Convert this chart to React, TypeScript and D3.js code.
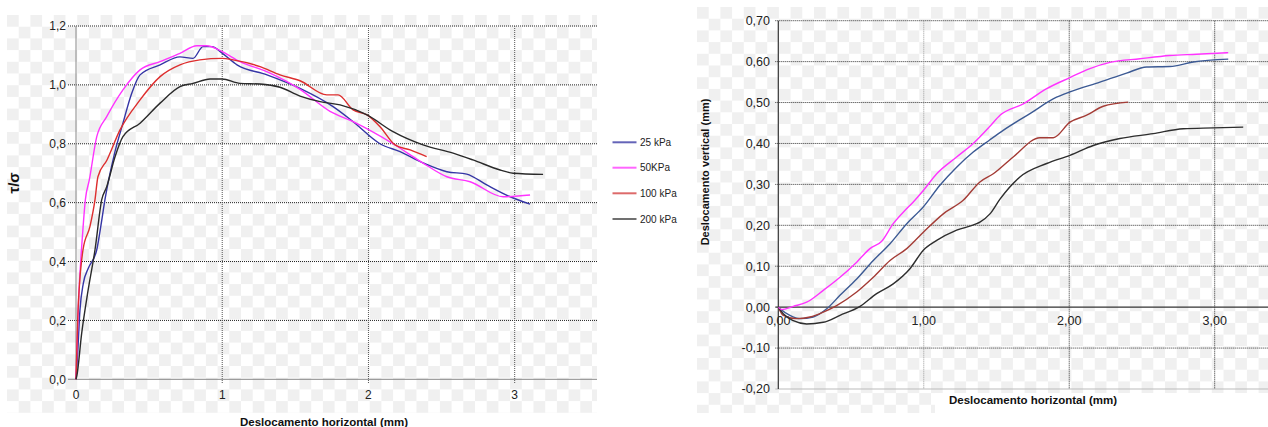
import React from "react";
import * as d3 from "d3";

// ---------- Left chart data (τ/σ vs horizontal displacement) ----------
const L_X_TICKS = [0, 1, 2, 3];
const L_Y_TICKS = [0, 0.2, 0.4, 0.6, 0.8, 1.0, 1.2];
const L_Y_LABELS = ["0,0", "0,2", "0,4", "0,6", "0,8", "1,0", "1,2"];

const kpa25: [number, number][] = [
  [0, 0], [0.009, 0.066], [0.027, 0.235], [0.05, 0.326], [0.084, 0.377], [0.142, 0.44],
  [0.176, 0.54], [0.198, 0.61], [0.26, 0.76], [0.321, 0.87], [0.38, 0.97], [0.438, 1.034],
  [0.575, 1.068], [0.711, 1.095], [0.8, 1.09], [0.869, 1.13], [0.93, 1.13], [0.999, 1.108],
  [1.101, 1.068], [1.306, 1.034], [1.532, 0.988], [1.758, 0.926], [1.895, 0.875],
  [2.079, 0.8], [2.216, 0.773], [2.373, 0.735], [2.536, 0.705], [2.672, 0.697],
  [2.809, 0.66], [2.969, 0.62], [3.105, 0.595],
];
const kpa50: [number, number][] = [
  [0, 0], [0.016, 0.247], [0.046, 0.5], [0.064, 0.61], [0.091, 0.677], [0.142, 0.824],
  [0.21, 0.892], [0.321, 0.983], [0.438, 1.051], [0.575, 1.079], [0.711, 1.107],
  [0.826, 1.133], [0.894, 1.133], [0.999, 1.113], [1.121, 1.079], [1.304, 1.045],
  [1.532, 0.985], [1.737, 0.91], [1.895, 0.875], [2.168, 0.8], [2.365, 0.737],
  [2.536, 0.688], [2.695, 0.671], [2.921, 0.62], [3.105, 0.626],
];
const kpa100: [number, number][] = [
  [0, 0], [0.012, 0.21], [0.048, 0.44], [0.096, 0.52], [0.13, 0.61], [0.15, 0.688],
  [0.212, 0.745], [0.301, 0.847], [0.438, 0.949], [0.575, 1.028], [0.711, 1.068],
  [0.847, 1.085], [0.999, 1.09], [1.074, 1.085], [1.259, 1.062], [1.395, 1.034],
  [1.532, 1.014], [1.715, 0.966], [1.792, 0.966], [1.895, 0.915], [1.99, 0.898],
  [2.079, 0.858], [2.182, 0.796], [2.285, 0.779], [2.398, 0.756],
];
const kpa200: [number, number][] = [
  [0, 0], [0.005, 0.01], [0.039, 0.157], [0.082, 0.3], [0.13, 0.44], [0.176, 0.61],
  [0.21, 0.654], [0.267, 0.756], [0.321, 0.824], [0.438, 0.87], [0.575, 0.938],
  [0.711, 0.994], [0.8, 1.005], [0.917, 1.02], [0.999, 1.02], [1.121, 1.005],
  [1.259, 1.003], [1.395, 0.992], [1.532, 0.962], [1.669, 0.943], [1.806, 0.932],
  [1.99, 0.898], [2.168, 0.841], [2.373, 0.796], [2.579, 0.768], [2.715, 0.745],
  [2.9, 0.711], [2.989, 0.7], [3.194, 0.696],
];
const LEGEND_LABELS = ["25 kPa", "50KPa", "100 kPa", "200 kPa"];

// ---------- Right chart data (vertical vs horizontal displacement) ----------
const R_X_TICKS = [0, 1, 2, 3];
const R_X_LABELS = ["0,00", "1,00", "2,00", "3,00"];
const R_Y_TICKS = [-0.2, -0.1, 0, 0.1, 0.2, 0.3, 0.4, 0.5, 0.6, 0.7];
const R_Y_LABELS = ["-0,20", "-0,10", "0,00", "0,10", "0,20", "0,30", "0,40", "0,50", "0,60", "0,70"];

const v50: [number, number][] = [
  [0, 0], [0.023, -0.006], [0.103, 0.002], [0.195, 0.012], [0.309, 0.041], [0.424, 0.073],
  [0.539, 0.11], [0.63, 0.143], [0.711, 0.161], [0.79, 0.204], [0.859, 0.232],
  [0.928, 0.257], [0.997, 0.285], [1.089, 0.326], [1.226, 0.367], [1.34, 0.4],
  [1.455, 0.442], [1.524, 0.469], [1.684, 0.497], [1.845, 0.534], [2.005, 0.561],
  [2.142, 0.583], [2.28, 0.598], [2.486, 0.607], [2.692, 0.615], [2.876, 0.618],
  [3.093, 0.622],
];
const v25: [number, number][] = [
  [0, 0], [0.012, -0.004], [0.08, -0.02], [0.149, -0.028], [0.24, -0.024], [0.333, -0.004],
  [0.424, 0.029], [0.539, 0.069], [0.653, 0.114], [0.768, 0.155], [0.883, 0.204],
  [0.997, 0.245], [1.111, 0.298], [1.226, 0.342], [1.34, 0.379], [1.455, 0.409],
  [1.546, 0.432], [1.73, 0.473], [1.913, 0.513], [2.005, 0.526], [2.211, 0.55],
  [2.394, 0.572], [2.532, 0.587], [2.692, 0.588], [2.852, 0.599], [3.093, 0.606],
];
const v100: [number, number][] = [
  [0, 0], [0.034, -0.02], [0.126, -0.028], [0.218, -0.024], [0.309, -0.012], [0.401, 0.004],
  [0.539, 0.037], [0.653, 0.073], [0.768, 0.114], [0.883, 0.143], [0.997, 0.183],
  [1.134, 0.228], [1.271, 0.261], [1.386, 0.306], [1.478, 0.326], [1.615, 0.367],
  [1.799, 0.414], [1.89, 0.414], [2.005, 0.452], [2.12, 0.469], [2.234, 0.491],
  [2.405, 0.501],
];
const v200: [number, number][] = [
  [0, 0], [0.034, -0.016], [0.103, -0.033], [0.195, -0.041], [0.309, -0.037], [0.424, -0.02],
  [0.562, 0.002], [0.676, 0.033], [0.79, 0.057], [0.905, 0.094], [0.997, 0.139],
  [1.089, 0.163], [1.226, 0.188], [1.364, 0.204], [1.386, 0.208], [1.455, 0.228],
  [1.524, 0.264], [1.661, 0.318], [1.845, 0.351], [2.005, 0.371], [2.165, 0.395],
  [2.348, 0.412], [2.577, 0.424], [2.784, 0.436], [2.99, 0.438], [3.196, 0.44],
];

const FONT = "'Liberation Sans', Arial, sans-serif";

export default function App() {
  // Left chart scales
  const lx = d3.scaleLinear().domain([0, 3]).range([76, 514.7]);
  const ly = d3.scaleLinear().domain([0, 1.2]).range([379.3, 26]);
  const lLeft = 76, lRight = 597, lTop = 26, lBottom = 379.3;
  const lline = d3.line<[number, number]>().x((d) => lx(d[0])).y((d) => ly(d[1])).curve(d3.curveMonotoneX);
  const leftSeries = [
    { data: kpa25, color: "#3535a5", legend: "#6464b8" },
    { data: kpa50, color: "#ff33ff", legend: "#ff66ff" },
    { data: kpa100, color: "#dd2e2e", legend: "#dd6a6a" },
    { data: kpa200, color: "#2a2a2a", legend: "#707070" },
  ];

  // Right chart scales
  const rx = d3.scaleLinear().domain([0, 3]).range([778.3, 1214.7]);
  const ry = d3.scaleLinear().domain([-0.2, 0.7]).range([389, 20.7]);
  const rLeft = 778.3, rRight = 1268, rTop = 20.7, rBottom = 389;
  const rline = d3.line<[number, number]>().x((d) => rx(d[0])).y((d) => ry(d[1])).curve(d3.curveMonotoneX);
  const rightSeries = [
    { data: v25, color: "#3c5a94" },
    { data: v100, color: "#a43c36" },
    { data: v200, color: "#2e2e2e" },
    { data: v50, color: "#ff33ff" },
  ];

  const legendY = [142.3, 167.7, 193.3, 219];

  return (
    <svg
      width={1268}
      height={427}
      style={{ position: "absolute", left: 0, top: 0, background: "#fff" }}
      fontFamily={FONT}
    >
      <defs>
        <pattern id="cbL" width={23.4} height={23.4} patternUnits="userSpaceOnUse" x={7} y={15}>
          <rect x={0} y={0} width={11.7} height={11.7} fill="#f0f0f0" />
          <rect x={11.7} y={11.7} width={11.7} height={11.7} fill="#f0f0f0" />
        </pattern>
        <pattern id="cbR" width={23.4} height={23.4} patternUnits="userSpaceOnUse" x={697} y={7}>
          <rect x={0} y={0} width={11.7} height={11.7} fill="#f0f0f0" />
          <rect x={11.7} y={11.7} width={11.7} height={11.7} fill="#f0f0f0" />
        </pattern>
        <clipPath id="clipR">
          <rect x={rLeft} y={rTop - 2} width={rRight - rLeft} height={rBottom - rTop + 4} />
        </clipPath>
      </defs>

      {/* checkerboard backgrounds */}
      <rect x={7} y={15} width={590} height={398} fill="url(#cbL)" />
      <rect x={697} y={7} width={571} height={386} fill="url(#cbR)" />
      <rect x={697} y={393} width={238} height={20} fill="url(#cbR)" />

      {/* ================= LEFT CHART ================= */}
      {/* horizontal grid */}
      {L_Y_TICKS.filter((t) => t > 0).map((t) => (
        <line key={"lh" + t} x1={lLeft - 8} x2={lRight} y1={ly(t)} y2={ly(t)} stroke="#222" strokeWidth={1} strokeDasharray="1,1" />
      ))}
      {/* vertical grid */}
      {L_X_TICKS.filter((t) => t > 0).map((t) => (
        <line key={"lv" + t} x1={lx(t)} x2={lx(t)} y1={lTop} y2={lBottom + 4} stroke="#555" strokeWidth={1} strokeDasharray="1,1" />
      ))}
      {/* axes */}
      <line x1={lLeft} x2={lLeft} y1={lTop} y2={lBottom} stroke="#888" strokeWidth={1} />
      <line x1={lLeft - 8} x2={lRight} y1={lBottom} y2={lBottom} stroke="#888" strokeWidth={1} />
      {/* y tick labels */}
      {L_Y_TICKS.map((t, i) => (
        <text key={"lyt" + t} x={66} y={ly(t)} dy="0.35em" textAnchor="end" fontSize={12} fill="#222">
          {L_Y_LABELS[i]}
        </text>
      ))}
      {/* x tick labels */}
      {L_X_TICKS.map((t) => (
        <text key={"lxt" + t} x={lx(t)} y={399} textAnchor="middle" fontSize={12} fill="#222">
          {t}
        </text>
      ))}
      {/* series */}
      {leftSeries.map((s, i) => (
        <path key={"ls" + i} d={lline(s.data) || ""} fill="none" stroke={s.color} strokeWidth={1.4} />
      ))}
      {/* axis titles */}
      <text x={324} y={426} textAnchor="middle" fontSize={11.5} fontWeight="bold" fill="#111">
        Deslocamento horizontal (mm)
      </text>
      <text transform="translate(19,183) rotate(-90)" textAnchor="middle" fontSize={15} fontWeight="bold" fill="#111">
        τ/σ
      </text>
      {/* legend */}
      {leftSeries.map((s, i) => (
        <g key={"lg" + i}>
          <line x1={612.5} x2={636.5} y1={legendY[i]} y2={legendY[i]} stroke={s.legend} strokeWidth={2} />
          <text x={640} y={legendY[i]} dy="0.35em" fontSize={10} fill="#222">
            {LEGEND_LABELS[i]}
          </text>
        </g>
      ))}

      {/* ================= RIGHT CHART ================= */}
      {R_Y_TICKS.filter((t) => t !== 0 && t !== -0.2).map((t) => (
        <line key={"rh" + t} x1={rLeft - 3} x2={rRight} y1={ry(t)} y2={ry(t)} stroke="#333" strokeWidth={1} strokeDasharray="1,1" />
      ))}
      <line x1={rLeft - 3} x2={rRight} y1={rBottom} y2={rBottom} stroke="#bbb" strokeWidth={1} />
      {R_X_TICKS.filter((t) => t > 0).map((t) => (
        <line key={"rv" + t} x1={rx(t)} x2={rx(t)} y1={rTop} y2={rBottom} stroke={t === 1 ? "#999" : "#333"} strokeWidth={1} strokeDasharray="1,1" />
      ))}
      <line x1={rLeft} x2={rLeft} y1={rTop} y2={rBottom} stroke="#333" strokeWidth={1.2} />
      <line x1={rLeft - 3} x2={rRight} y1={ry(0)} y2={ry(0)} stroke="#333" strokeWidth={1.2} />
      {R_Y_TICKS.map((t, i) => (
        <text key={"ryt" + t} x={770} y={ry(t)} dy="0.35em" textAnchor="end" fontSize={12.5} fill="#222">
          {R_Y_LABELS[i]}
        </text>
      ))}
      {R_X_TICKS.map((t, i) => (
        <text key={"rxt" + t} x={rx(t)} y={325} textAnchor="middle" fontSize={12.5} fill="#222">
          {R_X_LABELS[i]}
        </text>
      ))}
      <g clipPath="url(#clipR)">
        {rightSeries.map((s, i) => (
          <path key={"rs" + i} d={rline(s.data) || ""} fill="none" stroke={s.color} strokeWidth={1.4} />
        ))}
      </g>
      <text x={1033} y={404} textAnchor="middle" fontSize={11.5} fontWeight="bold" fill="#111">
        Deslocamento horizontal (mm)
      </text>
      <text transform="translate(709,172) rotate(-90)" textAnchor="middle" fontSize={11} fontWeight="bold" fill="#111">
        Deslocamento vertical (mm)
      </text>
    </svg>
  );
}
